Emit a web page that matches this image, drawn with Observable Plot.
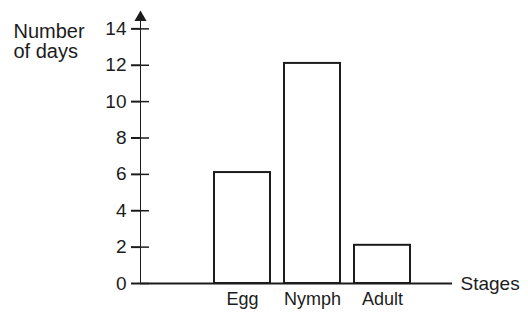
<!DOCTYPE html>
<html>
<head>
<meta charset="utf-8">
<script src="https://cdn.jsdelivr.net/npm/d3@7"></script>
<script src="https://cdn.jsdelivr.net/npm/@observablehq/plot@0.6"></script>
<style>
  html, body { margin: 0; padding: 0; background: #fff; }
  svg { display: block; }
  .lifecycle [aria-label^="x-axis"] text { font-size: 18px; }
  .lifecycle [aria-label^="y-axis"] path { stroke-width: 2px; }
  .lifecycle [aria-label^="y-axis"] line { stroke-width: 1.5px; }
</style>
</head>
<body>
<div id="chart"></div>
<script>
const stages = ["Egg", "Nymph", "Adult"];
const days = [6.1, 12.1, 2.1];
const yTicks = [0, 2, 4, 6, 8, 10, 12, 14];
const yLabel = "Number\nof days";
const xLabel = "Stages";

const data = stages.map((s, i) => ({stage: s, days: days[i]}));
const ink = "#1c1c1c";
const font = "Liberation Sans, Arial, sans-serif";

const chart = Plot.plot({
  width: 528,
  height: 313,
  marginLeft: 140,
  marginRight: 76,
  marginTop: 12,
  marginBottom: 30,
  className: "lifecycle",
  style: {fontFamily: font, fontSize: "19px", color: ink, background: "#fff"},
  x: {domain: stages, range: [214, 410], paddingInner: 0.2, paddingOuter: 0, label: null, tickSize: 0, tickPadding: 9},
  y: {domain: [0, 14.9], ticks: yTicks, tickSize: 9, tickPadding: 5, label: null, line: true},
  marks: [
    Plot.barY(data, {x: "stage", y: "days", fill: "white", stroke: ink, strokeWidth: 2}),
    Plot.ruleY([0], {stroke: ink, strokeWidth: 2}),
    Plot.ruleY(yTicks, {stroke: ink, strokeWidth: 1.5, insetRight: 303}),
    Plot.dot([0], {frameAnchor: "top-left", dy: 5, symbol: "triangle", r: 4.5, fill: ink, stroke: "none"}),
    Plot.text([yLabel], {frameAnchor: "top-left", textAnchor: "start", lineAnchor: "top", dx: -127, dy: 11, fontSize: 20, lineHeight: 1, fill: ink}),
    Plot.text([xLabel], {frameAnchor: "bottom-right", textAnchor: "start", lineAnchor: "middle", dx: 8, fontSize: 19, fill: ink})
  ]
});
document.getElementById("chart").appendChild(chart);
</script>
</body>
</html>
